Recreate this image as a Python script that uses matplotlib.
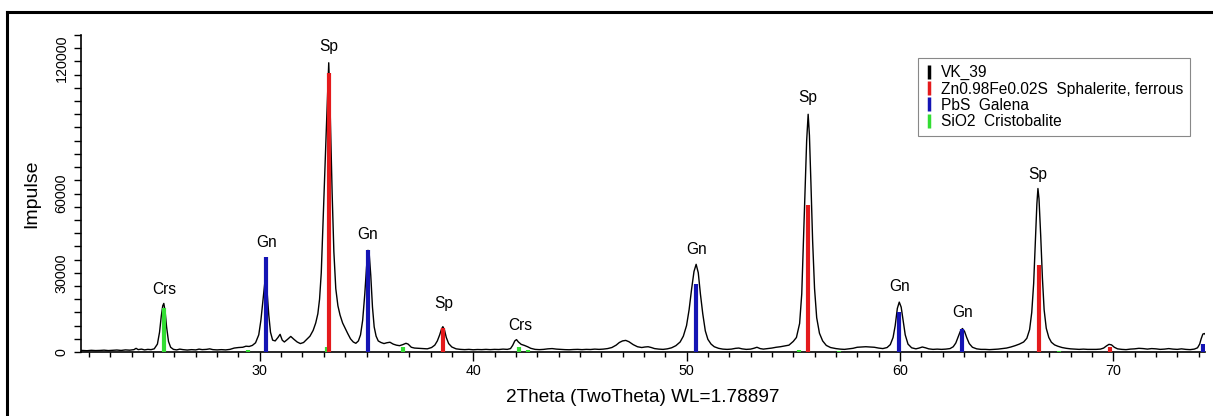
import matplotlib
matplotlib.use('Agg')
import matplotlib.pyplot as plt
from matplotlib.lines import Line2D
from matplotlib.patches import Rectangle
import numpy as np

plt.rcParams['font.family'] = ['Liberation Sans', 'DejaVu Sans']

# measured pattern VK_39 (2theta, counts)
two_theta = [21.65, 21.9, 22.1, 22.3, 22.5, 22.7, 22.9, 23.1, 23.3, 23.5, 23.7, 23.9, 24.1, 24.2, 24.3,
             24.45, 24.6, 24.75, 24.9, 25.05, 25.2, 25.3, 25.38, 25.45, 25.5, 25.56, 25.63, 25.72, 25.82,
             25.95, 26.1, 26.25, 26.4, 26.6, 26.8, 27.0, 27.15, 27.3, 27.5, 27.65, 27.8, 28.0, 28.2, 28.4,
             28.6, 28.8, 29.0, 29.2, 29.35, 29.5, 29.65, 29.8, 29.95, 30.05, 30.15, 30.23, 30.28, 30.34,
             30.42, 30.5, 30.6, 30.72, 30.85, 30.95, 31.05, 31.15, 31.3, 31.45, 31.6, 31.75, 31.9, 32.05,
             32.2, 32.35, 32.5, 32.62, 32.72, 32.8, 32.88, 32.96, 33.04, 33.12, 33.18, 33.23, 33.28, 33.33,
             33.39, 33.47, 33.56, 33.66, 33.76, 33.88, 34.0, 34.12, 34.25, 34.38, 34.5, 34.62, 34.72, 34.82,
             34.92, 35.0, 35.07, 35.12, 35.2, 35.28, 35.36, 35.45, 35.55, 35.68, 35.82, 35.95, 36.1, 36.25,
             36.4, 36.55, 36.7, 36.85, 36.95, 37.1, 37.25, 37.45, 37.65, 37.85, 38.05, 38.2, 38.32, 38.43,
             38.52, 38.58, 38.65, 38.74, 38.85, 39.0, 39.2, 39.4, 39.6, 39.8, 40.0, 40.2, 40.4, 40.6, 40.8,
             41.0, 41.2, 41.4, 41.6, 41.75, 41.85, 41.95, 42.03, 42.12, 42.25, 42.4, 42.55, 42.7, 42.9,
             43.1, 43.3, 43.5, 43.7, 43.9, 44.1, 44.3, 44.5, 44.7, 44.9, 45.1, 45.3, 45.5, 45.7, 45.9,
             46.1, 46.3, 46.5, 46.7, 46.85, 47.0, 47.15, 47.3, 47.5, 47.7, 47.9, 48.05, 48.2, 48.35, 48.5,
             48.7, 48.9, 49.1, 49.3, 49.5, 49.7, 49.85, 50.0, 50.12, 50.24, 50.35, 50.45, 50.55, 50.65,
             50.76, 50.88, 51.0, 51.15, 51.3, 51.5, 51.7, 51.9, 52.1, 52.3, 52.45, 52.6, 52.8, 53.0, 53.15,
             53.3, 53.45, 53.6, 53.8, 54.0, 54.2, 54.4, 54.6, 54.8, 55.0, 55.15, 55.3, 55.4, 55.48, 55.56,
             55.63, 55.7, 55.76, 55.83, 55.91, 56.0, 56.1, 56.23, 56.38, 56.55, 56.75, 57.0, 57.2, 57.4,
             57.6, 57.8, 58.0, 58.2, 58.4, 58.6, 58.8, 59.0, 59.2, 59.4, 59.55, 59.68, 59.78, 59.88, 59.97,
             60.06, 60.15, 60.25, 60.38, 60.55, 60.75, 60.9, 61.05, 61.2, 61.35, 61.55, 61.75, 61.95, 62.15,
             62.35, 62.5, 62.62, 62.72, 62.83, 62.93, 63.03, 63.13, 63.25, 63.4, 63.6, 63.8, 64.0, 64.2,
             64.4, 64.6, 64.8, 65.0, 65.2, 65.4, 65.6, 65.8, 65.95, 66.08, 66.18, 66.27, 66.35, 66.42,
             66.47, 66.52, 66.6, 66.68, 66.76, 66.86, 66.98, 67.1, 67.25, 67.4, 67.6, 67.8, 68.0, 68.2,
             68.4, 68.6, 68.8, 69.0, 69.2, 69.4, 69.55, 69.68, 69.8, 69.92, 70.05, 70.2, 70.4, 70.6, 70.8,
             71.0, 71.2, 71.4, 71.6, 71.8, 72.0, 72.2, 72.4, 72.6, 72.8, 73.0, 73.2, 73.4, 73.6, 73.8,
             73.95, 74.05, 74.12, 74.2, 74.28, 74.35]
counts = [600, 500, 650, 550, 600, 700, 550, 650, 750, 600, 800, 700, 900, 1400, 900,
          1100, 800, 1000, 900, 1200, 3000, 7500, 13500, 17500, 18400, 15500, 9500, 4000, 1800,
          1000, 800, 1100, 900, 750, 900, 800, 1100, 900, 1000, 1200, 900, 800, 900, 800,
          1000, 1500, 1700, 1800, 2200, 2100, 2500, 3500, 6500, 12000, 20000, 26000, 27000, 23000,
          14000, 7500, 4500, 4200, 5500, 6700, 4500, 3800, 4800, 5900, 4800, 3800, 3200, 3600,
          4800, 6000, 8200, 11000, 14500, 20000, 30000, 48000, 65000, 85000, 99000, 109500, 97000, 80000,
          60000, 38000, 24000, 17500, 14000, 11000, 9000, 7000, 5000, 3800, 3300, 4200, 6500, 12000,
          22000, 32000, 38500, 38000, 29000, 17000, 9500, 6000, 4200, 3600, 3200, 3500, 3700, 3000,
          2600, 2400, 2800, 3300, 3000, 1800, 1500, 1400, 1300, 1200, 1700, 2600, 4200, 6500,
          8800, 9600, 8500, 5500, 3200, 1900, 1200, 1000, 900, 1000, 850, 950, 900, 1000, 900,
          1000, 950, 1100, 1000, 1300, 2500, 4200, 4700, 3800, 2900, 2500, 2000, 1400, 1000,
          900, 1000, 1200, 1300, 1100, 1000, 900, 850, 950, 1000, 900, 1000, 950, 1100, 1000,
          1100, 1300, 1700, 2600, 3600, 4200, 4400, 3900, 2800, 2000, 1700, 1900, 2000, 1700, 1300,
          1100, 1000, 1200, 1600, 2400, 3800, 6000, 10000, 16000, 24000, 30500, 33200, 30000, 22000,
          14500, 8000, 4800, 3000, 2000, 1400, 1100, 1000, 1100, 1400, 1500, 1200, 1000, 1100, 1400,
          1800, 1300, 1100, 1300, 1500, 1800, 2000, 2300, 2600, 4000, 5500, 10800, 22000, 42000, 62000,
          80000, 90000, 82000, 64000, 42000, 24000, 13000, 7100, 4200, 2500, 1700, 1300, 1100, 1000,
          1200, 1400, 1800, 1900, 2000, 1900, 1800, 1500, 1300, 1700, 2800, 5500, 10000, 16500, 18900,
          17000, 12000, 6500, 3000, 1600, 1200, 1500, 1900, 1600, 1200, 1000, 1100, 1000, 1100,
          1300, 2000, 3400, 5500, 7800, 8900, 7800, 5500, 3200, 1800, 1200, 1000, 1000, 900,
          1000, 1100, 1300, 1500, 1900, 2400, 3000, 3800, 5200, 8500, 15000, 26000, 42000, 56000,
          61900, 58000, 44000, 28000, 16000, 9000, 5500, 3700, 2700, 2200, 1700, 1400, 1200, 1100,
          1000, 1100, 1000, 1000, 1000, 1100, 1500, 2300, 2900, 2700, 1800, 1200, 1000, 900, 1100,
          1200, 1400, 1300, 1100, 1300, 1200, 1000, 1100, 1300, 1100, 1000, 1200, 1000, 900, 1100,
          1600, 3000, 5000, 6800, 7000, 6200]

# reference sticks
sph_pos = [33.26, 38.58, 55.71, 66.50, 69.84]
sph_int = [105500, 9240, 55800, 32800, 2000]
gal_pos = [30.27, 35.09, 50.45, 59.98, 62.93, 74.22]
gal_int = [36000, 38800, 25900, 15150, 8860, 3200]
crs_pos = [25.53, 29.44, 33.13, 36.71, 42.16, 42.57, 55.26, 57.14, 67.46]
crs_int = [16500, 600, 2000, 1900, 1900, 600, 600, 500, 500]

# peak labels
lab_text = ['Crs', 'Gn', 'Sp', 'Gn', 'Sp', 'Crs', 'Gn', 'Sp', 'Gn', 'Gn', 'Sp']
lab_x = [25.5, 30.3, 33.23, 35.06, 38.6, 42.2, 50.47, 55.67, 60.0, 62.93, 66.45]
lab_y = [23750, 41550, 115800, 44580, 18450, 10150, 38900, 96500, 24900, 15050, 67300]

legend_labels = ['VK_39', 'Zn0.98Fe0.02S  Sphalerite, ferrous', 'PbS  Galena', 'SiO2  Cristobalite']
c_red, c_blue, c_green = '#e41a1c', '#1414b4', '#33dd33'

fig = plt.figure(figsize=(12.13, 4.16), dpi=100)
ax = fig.add_axes([0.0668, 0.1538, 0.9266, 0.7620])

ax.plot(two_theta, counts, color='black', lw=1.0, zorder=2)
ax.vlines(crs_pos, 0, crs_int, colors=c_green, lw=3, zorder=3)
ax.vlines(gal_pos, 0, gal_int, colors=c_blue, lw=3, zorder=3)
ax.vlines(sph_pos, 0, sph_int, colors=c_red, lw=3, zorder=3)

for t, x, y in zip(lab_text, lab_x, lab_y):
    ax.text(x, y, t, ha='center', va='center', fontsize=11.2)

ax.set_xlim(21.62, 74.3)
ax.set_ylim(0, 120000)
for s in ['top', 'right']:
    ax.spines[s].set_visible(False)
ax.spines['left'].set_linewidth(1.2)
ax.spines['bottom'].set_linewidth(1.2)

ax.set_xticks([30, 40, 50, 60, 70])
ax.set_xticks(np.arange(22, 75, 1), minor=True)
ax.tick_params(axis='x', which='major', length=6.5, width=1, pad=2, labelsize=10.3)
ax.tick_params(axis='x', which='minor', length=3.5, width=1)

yt = np.arange(0, 120001, 5000)
ax.set_yticks(yt)
ax.set_yticklabels([str(v) if v in (0, 30000, 60000) else '' for v in yt],
                   rotation=90, va='center')
ax.tick_params(axis='y', length=5, width=1, pad=4, labelsize=10.3)

# top label sits lower and gets cut at the axis top
top_lab = fig.text(62 / 1213, 1 - 58 / 416, '120000', rotation=90, ha='center', va='center', fontsize=10.3)
top_lab.set_clip_path(Rectangle((0, 0), 1, 1 - 35 / 416, transform=fig.transFigure))

ax.set_xlabel('2Theta (TwoTheta) WL=1.78897', fontsize=13.7, labelpad=8)
ax.set_ylabel('Impulse', fontsize=14, labelpad=10)

handles = [Line2D([], [], marker='|', linestyle='None', markersize=10, markeredgewidth=2.5, color=c)
           for c in ['black', c_red, c_blue, c_green]]
leg = ax.legend(handles, legend_labels, loc='upper right', bbox_to_anchor=(0.9867, 0.927),
                borderaxespad=0, fontsize=11.2, handlelength=0.5, handletextpad=0.5,
                labelspacing=0.08, fancybox=False, framealpha=1, edgecolor='#888888',
                borderpad=0.45)
leg.get_frame().set_linewidth(0.8)

# outer frame (top and left edges)
fig.add_artist(Line2D([7 / 1213, 1], [1 - 12 / 416, 1 - 12 / 416], color='black', lw=2.2,
                      transform=fig.transFigure))
fig.add_artist(Line2D([7 / 1213, 7 / 1213], [0, 1 - 12 / 416], color='black', lw=2.2,
                      transform=fig.transFigure))

fig.savefig('out.png', dpi=100)
